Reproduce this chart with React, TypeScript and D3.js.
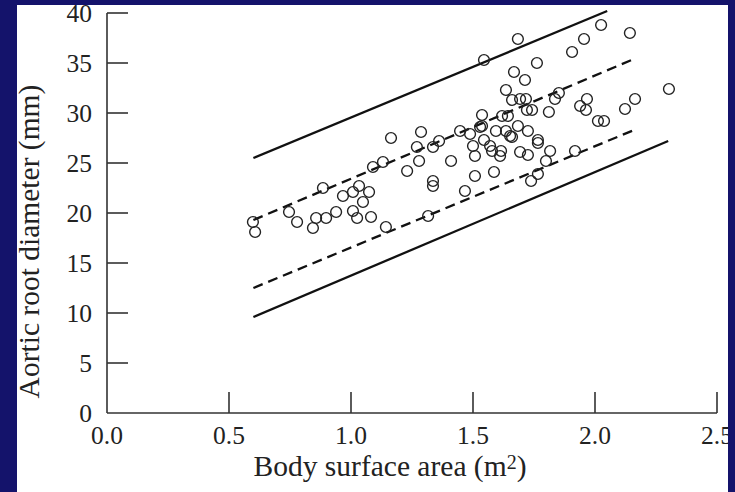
import React from "react";
import * as d3 from "d3";

// Body surface area (m²) and aortic root diameter (mm) of each subject
const bsa = [
  0.598, 0.607, 0.746, 0.779, 0.844, 0.857, 0.898, 0.939, 0.885, 0.967,
  1.008, 1.033, 1.074, 1.049, 1.008, 1.025, 1.082, 1.143, 1.09, 1.131,
  1.164, 1.23, 1.279, 1.27, 1.287, 1.336, 1.361, 1.336, 1.336, 1.316,
  1.41, 1.447, 1.488, 1.529, 1.5, 1.508, 1.545, 1.508, 1.467, 1.545,
  1.537, 1.537, 1.57, 1.578, 1.615, 1.611, 1.594, 1.635, 1.652, 1.66,
  1.684, 1.725, 1.619, 1.643, 1.586, 1.693, 1.725, 1.766, 1.766, 1.816,
  1.799, 1.918, 1.766, 1.738, 1.684, 1.762, 1.668, 1.713, 1.635, 1.66,
  1.693, 1.717, 1.721, 1.742, 1.836, 1.852, 1.811, 1.906, 1.955, 2.025,
  2.143, 1.939, 1.967, 1.963, 2.012, 2.037, 2.123, 2.164, 2.303,
];
const aortic = [
  19.1, 18.1, 20.1, 19.1, 18.5, 19.5, 19.5, 20.1, 22.5, 21.7,
  22.1, 22.7, 22.1, 21.1, 20.2, 19.5, 19.6, 18.6, 24.6, 25.1,
  27.5, 24.2, 25.2, 26.6, 28.1, 26.6, 27.2, 23.2, 22.7, 19.7,
  25.2, 28.2, 27.9, 28.6, 26.7, 25.7, 27.3, 23.7, 22.2, 35.3,
  29.8, 28.7, 26.7, 26.2, 26.2, 25.7, 28.2, 28.2, 27.7, 27.6,
  28.7, 28.2, 29.7, 29.7, 24.1, 26.1, 25.8, 27.3, 27.0, 26.2,
  25.2, 26.2, 23.9, 23.2, 37.4, 35.0, 34.1, 33.3, 32.3, 31.3,
  31.4, 31.4, 30.3, 30.3, 31.4, 32.0, 30.1, 36.1, 37.4, 38.8,
  38.0, 30.7, 31.4, 30.3, 29.2, 29.2, 30.4, 31.4, 32.4,
];

// Reference limit lines: [start, end]
const upperSolidX = [0.6, 2.05];
const upperSolidY = [25.5, 40.2];
const upperDashX = [0.6, 2.16];
const upperDashY = [19.3, 35.4];
const lowerDashX = [0.6, 2.17];
const lowerDashY = [12.5, 28.4];
const lowerSolidX = [0.6, 2.3];
const lowerSolidY = [9.6, 27.2];

const xTicks = [0, 0.5, 1.0, 1.5, 2.0, 2.5];
const yTicks = [0, 5, 10, 15, 20, 25, 30, 35, 40];

const W = 735;
const H = 492;
const BLUE = "#14136b";
const FONT = "'Liberation Serif', 'Times New Roman', serif";

export default function App() {
  const x = d3.scaleLinear().domain([0, 2.5]).range([107, 717]);
  const y = d3.scaleLinear().domain([0, 40]).range([413, 13]);
  const line = d3
    .line<[number, number]>()
    .x((d) => x(d[0]))
    .y((d) => y(d[1]));
  const mk = (xs: number[], ys: number[]) =>
    line(xs.map((v, i) => [v, ys[i]] as [number, number])) || "";

  const axisColor = "#333";
  const textColor = "#222";

  return (
    <svg
      width={W}
      height={H}
      style={{ position: "absolute", left: 0, top: 0, display: "block" }}
    >
      <rect x={0} y={0} width={W} height={H} fill={BLUE} />
      <rect x={17} y={5} width={711} height={H - 5} fill="#fff" />

      {/* axes */}
      <line x1={x(0)} x2={x(0)} y1={y(0)} y2={y(40)} stroke={axisColor} strokeWidth={1.6} />
      <line x1={x(0)} x2={x(2.5)} y1={y(0)} y2={y(0)} stroke={axisColor} strokeWidth={1.6} />
      {yTicks.map((t) => (
        <g key={"y" + t}>
          {t > 0 && (
            <line x1={x(0)} x2={x(0) + 21} y1={y(t)} y2={y(t)} stroke={axisColor} strokeWidth={1.6} />
          )}
          <text
            x={92}
            y={y(t)}
            dy="0.35em"
            textAnchor="end"
            fontFamily={FONT}
            fontSize={25.5}
            fill={textColor}
          >
            {t}
          </text>
        </g>
      ))}
      {xTicks.map((t) => (
        <g key={"x" + t}>
          {t > 0 && (
            <line x1={x(t)} x2={x(t)} y1={y(0)} y2={y(0) - 21} stroke={axisColor} strokeWidth={1.6} />
          )}
          <text
            x={x(t)}
            y={444}
            textAnchor="middle"
            fontFamily={FONT}
            fontSize={25.5}
            fill={textColor}
          >
            {t.toFixed(1)}
          </text>
        </g>
      ))}

      {/* limit lines */}
      <path d={mk(upperSolidX, upperSolidY)} stroke="#111" strokeWidth={2.3} fill="none" />
      <path d={mk(lowerSolidX, lowerSolidY)} stroke="#111" strokeWidth={2.3} fill="none" />
      <path d={mk(upperDashX, upperDashY)} stroke="#111" strokeWidth={2.3} fill="none" strokeDasharray="10,6" />
      <path d={mk(lowerDashX, lowerDashY)} stroke="#111" strokeWidth={2.3} fill="none" strokeDasharray="10,6" />

      {/* points */}
      {bsa.map((b, i) => (
        <circle
          key={i}
          cx={x(b)}
          cy={y(aortic[i])}
          r={5.4}
          fill="none"
          stroke="#222"
          strokeWidth={1.4}
        />
      ))}

      {/* axis titles */}
      <text
        x={390}
        y={476}
        textAnchor="middle"
        fontFamily={FONT}
        fontSize={29.5}
        fill={textColor}
      >
        Body surface area (m
        <tspan fontSize={20} dy={-7}>2</tspan>
        <tspan dy={7}>)</tspan>
      </text>
      <text
        transform={`translate(39,241.5) rotate(-90)`}
        textAnchor="middle"
        fontFamily={FONT}
        fontSize={29.5}
        fill={textColor}
      >
        Aortic root diameter (mm)
      </text>

      {/* frame on top */}
      <rect x={0} y={0} width={17} height={H} fill={BLUE} />
      <rect x={728} y={0} width={W - 728} height={H} fill={BLUE} />
      <rect x={0} y={0} width={W} height={5} fill={BLUE} />
    </svg>
  );
}
